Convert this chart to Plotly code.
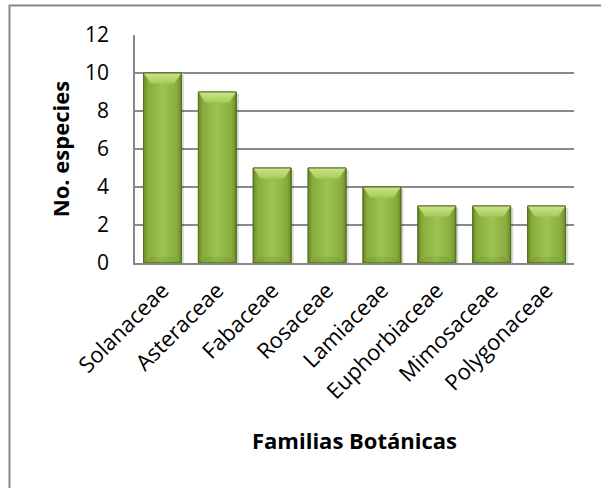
import plotly.graph_objects as go

familias = ["Solanaceae", "Asteraceae", "Fabaceae", "Rosaceae", "Lamiaceae",
            "Euphorbiaceae", "Mimosaceae", "Polygonaceae"]
especies = [10, 9, 5, 5, 4, 3, 3, 3]
y_ticks = [0, 2, 4, 6, 8, 10, 12]

FONT = "Open Sans"
HW = 0.345      # half bar width (category units)
BEV_X = 0.13    # bevel inset (category units)
BEV_Y = 0.55    # bevel depth (value units)

fig = go.Figure()

for i, v in enumerate(especies):
    # soft shadow
    fig.add_trace(go.Scatter(
        x=[i - HW + 0.04, i + HW + 0.05, i + HW + 0.05, i - HW + 0.04, i - HW + 0.04],
        y=[-0.12, -0.12, v - 0.1, v - 0.1, -0.12],
        mode="lines", fill="toself", line=dict(width=0),
        fillcolor="rgba(0,0,0,0.14)", hoverinfo="skip"))
    # bar body with horizontal gradient
    fig.add_trace(go.Scatter(
        x=[i - HW, i + HW, i + HW, i - HW, i - HW],
        y=[0, 0, v, v, 0],
        mode="lines", fill="toself",
        line=dict(color="#56711F", width=1),
        fillgradient=dict(type="horizontal", colorscale=[
            [0.0, "#6A8C28"], [0.12, "#88AD3E"], [0.5, "#9DC451"],
            [0.88, "#88AD3E"], [1.0, "#6A8C28"]]),
        hoverinfo="skip"))
    # bottom slightly darker bevel
    fig.add_trace(go.Scatter(
        x=[i - HW, i + HW, i + HW - BEV_X, i - HW + BEV_X, i - HW],
        y=[0, 0, BEV_Y * 0.6, BEV_Y * 0.6, 0],
        mode="lines", fill="toself", line=dict(width=0),
        fillcolor="rgba(80,110,25,0.15)", hoverinfo="skip"))
    # top light bevel
    fig.add_trace(go.Scatter(
        x=[i - HW, i + HW, i + HW - BEV_X, i - HW + BEV_X, i - HW],
        y=[v, v, v - BEV_Y, v - BEV_Y, v],
        mode="lines", fill="toself", line=dict(width=0),
        fillgradient=dict(type="vertical", colorscale=[
            [0.0, "#A6CB59"], [1.0, "#CBE58A"]]),
        hoverinfo="skip"))
    # outline on top
    fig.add_trace(go.Scatter(
        x=[i - HW, i + HW, i + HW, i - HW, i - HW],
        y=[0, 0, v, v, 0],
        mode="lines", line=dict(color="#56711F", width=1), hoverinfo="skip"))

fig.update_layout(
    width=601, height=488,
    margin=dict(l=135, r=27, t=35, b=225),
    paper_bgcolor="white", plot_bgcolor="white",
    showlegend=False,
    font=dict(family=FONT, color="black"),
    xaxis=dict(
        range=[-0.5, len(familias) - 0.5],
        tickvals=list(range(len(familias))), ticktext=familias,
        tickangle=-45, tickfont=dict(size=22, family=FONT),
        showline=True, linecolor="#868686", linewidth=1.5,
        ticks="", showgrid=False, zeroline=False, ticklabelstandoff=4,
        title=dict(text="<b>Familias Botánicas</b>", font=dict(size=22, family=FONT), standoff=30),
    ),
    yaxis=dict(
        range=[0, 12], tickvals=y_ticks, tickfont=dict(size=21, family=FONT),
        showgrid=True, gridcolor="#8A8A8A", gridwidth=1.5,
        showline=True, linecolor="#868686", linewidth=1.5,
        zeroline=False, ticks="", ticklabelstandoff=20,
        title=dict(text="<b>No. especies</b>", font=dict(size=22, family=FONT), standoff=9),
    ),
    shapes=[
        dict(type="rect", xref="paper", yref="paper",
             x0=(9.5 - 135) / 439, x1=(640 - 135) / 439,
             y0=(263 - 560) / 228, y1=(263 - 5.5) / 228,
             line=dict(color="#868686", width=2), fillcolor="rgba(0,0,0,0)", layer="below"),
    ],
)

fig.write_html("out.html")
